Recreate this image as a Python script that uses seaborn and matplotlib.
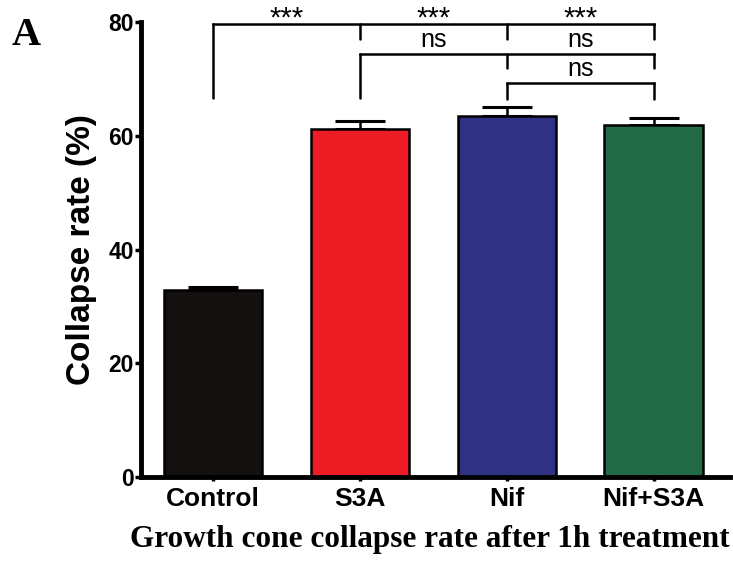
import matplotlib
matplotlib.use("Agg")
import matplotlib.pyplot as plt
import seaborn as sns
import pandas as pd

# Growth cone collapse after 1 h treatment (mean and SEM, %)
groups = ["Control", "S3A", "Nif", "Nif+S3A"]
means = [32.8, 61.2, 63.4, 61.9]
sems = [0.6, 1.4, 1.6, 1.2]
colors = ["#141010", "#ED1C24", "#2E3184", "#236B47"]
yticks = [0, 20, 40, 60, 80]

# Significance brackets: (start group, end group, line height, tick bottoms)
brackets = [
    (0, 3, 79.7, [66.7, 77.0, 77.0, 77.0]),
    (1, 3, 74.4, [66.7, 71.9, 71.9]),
    (2, 3, 69.3, [66.5, 66.5]),
]
# Labels: (x between groups, y, text)
stars = [(0.5, "***"), (1.5, "***"), (2.5, "***")]
ns_labels = [(1.5, 74.7, "ns"), (2.5, 74.7, "ns"), (2.5, 69.6, "ns")]

df = pd.DataFrame({"group": groups, "rate": means})

sns.set_style("ticks")
plt.rcParams["font.family"] = ["Liberation Sans", "DejaVu Sans"]
plt.rcParams["text.color"] = "black"
plt.rcParams["axes.labelcolor"] = "black"
plt.rcParams["xtick.color"] = "black"
plt.rcParams["ytick.color"] = "black"
plt.rcParams["axes.edgecolor"] = "black"

fig = plt.figure(figsize=(7.33, 5.61), dpi=100)
ax = fig.add_axes([0.1924, 0.1497, 0.8035, 0.811])

sns.barplot(data=df, x="group", y="rate", hue="group", palette=colors,
            legend=False, width=0.67, edgecolor="black", linewidth=1.8,
            saturation=1, errorbar=None, ax=ax)

# one-sided SEM error bars
ax.errorbar(range(len(groups)), means, yerr=[[0] * len(sems), sems],
            fmt="none", ecolor="black", elinewidth=1.8, capsize=18,
            capthick=2.2, zorder=1)
for bar in ax.patches:
    bar.set_zorder(2)

lw = 1.8
for start, end, h, drops in brackets:
    ax.plot([start, end], [h, h], color="black", lw=lw, clip_on=False,
            solid_capstyle="projecting")
    for pos, bottom in zip(range(start, end + 1), drops):
        ax.plot([pos, pos], [h, bottom], color="black", lw=lw,
                clip_on=False)
for x, txt in stars:
    ax.text(x, 83.0, txt, ha="center", va="top", fontsize=21,
            clip_on=False)
for x, y, txt in ns_labels:
    ax.text(x, y, txt, ha="center", va="bottom", fontsize=18,
            clip_on=False)

ax.set_ylim(0, 80)
ax.set_xlim(-0.49, 3.52)
ax.set_yticks(yticks)
ax.set_yticklabels([str(v) for v in yticks], fontsize=16.5, fontweight="bold")
ax.set_xticks(range(len(groups)))
ax.set_xticklabels(groups, fontsize=19, fontweight="bold")
ax.tick_params(axis="y", length=4, width=2.5, pad=1, direction="out")
ax.tick_params(axis="x", length=3, width=2.5, pad=4, direction="out")

ax.set_ylabel("Collapse rate (%)", fontsize=24, fontweight="bold", labelpad=8)
ax.set_xlabel("Growth cone collapse rate after 1h treatment",
              fontsize=22.5, fontweight="bold", family="Liberation Serif")
ax.xaxis.set_label_coords(0.49, -0.105)

for side in ["top", "right"]:
    ax.spines[side].set_visible(False)
for side in ["left", "bottom"]:
    ax.spines[side].set_linewidth(3.5)
    ax.spines[side].set_capstyle("projecting")

fig.text(0.016, 0.92, "A", fontsize=29, fontweight="bold",
         family="Liberation Serif", ha="left", va="baseline")

fig.savefig("out.png", dpi=100)
